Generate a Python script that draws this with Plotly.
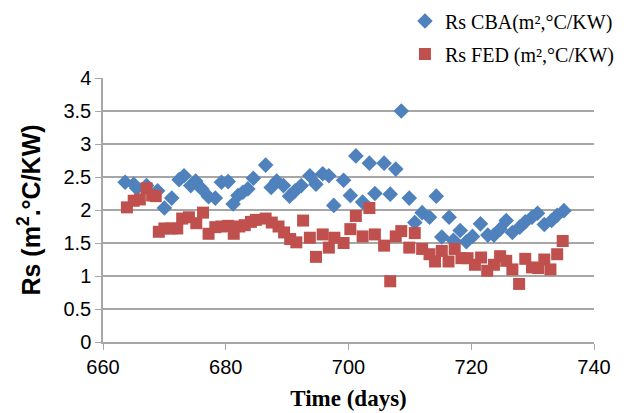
import plotly.graph_objects as go

# Rs CBA (blue diamonds)
cba_days = [663.6, 665.0, 665.5, 667.1, 668.9, 670.0, 671.2, 672.4, 673.2, 674.3,
            675.1, 676.1, 677.2, 678.3, 679.3, 680.4, 681.2, 682.0, 682.8, 683.6,
            684.5, 686.5, 687.4, 688.3, 689.4, 690.4, 691.3, 692.3, 693.7, 694.7,
            695.8, 696.8, 697.6, 699.2, 700.3, 701.2, 702.3, 703.4, 704.3, 705.8,
            706.8, 707.7, 708.6, 709.9, 710.8, 712.0, 713.2, 714.3, 715.2, 716.4,
            717.1, 718.2, 719.2, 720.2, 721.5, 722.7, 723.7, 724.7, 725.7, 726.7,
            727.9, 728.8, 729.9, 730.8, 731.9, 733.1, 734.0, 735.1]
cba_rs = [2.42, 2.39, 2.33, 2.37, 2.29, 2.03, 2.18, 2.46, 2.52, 2.37,
          2.44, 2.32, 2.20, 2.18, 2.42, 2.43, 2.09, 2.22, 2.27, 2.32,
          2.48, 2.68, 2.34, 2.44, 2.37, 2.21, 2.29, 2.37, 2.52, 2.39,
          2.55, 2.52, 2.07, 2.45, 2.22, 2.82, 2.12, 2.71, 2.25, 2.71,
          2.24, 2.62, 3.50, 2.18, 1.81, 1.96, 1.89, 2.21, 1.59, 1.89,
          1.54, 1.69, 1.52, 1.60, 1.79, 1.62, 1.62, 1.71, 1.84, 1.66,
          1.74, 1.82, 1.89, 1.95, 1.78, 1.84, 1.92, 1.99]

# Rs FED (red squares)
fed_days = [663.9, 665.0, 666.0, 667.1, 668.0, 668.6, 669.1, 670.0, 671.1, 672.1,
            672.9, 674.0, 675.2, 676.3, 677.2, 678.3, 679.3, 680.4, 681.3, 682.2,
            683.1, 684.1, 684.9, 686.5, 687.5, 688.6, 689.5, 690.5, 691.5, 692.6,
            693.7, 694.7, 695.8, 696.8, 697.7, 699.2, 700.3, 701.2, 702.3, 703.4,
            704.3, 705.8, 706.8, 707.7, 708.6, 709.9, 710.8, 712.0, 713.2, 714.1,
            715.2, 716.3, 717.3, 718.4, 719.4, 720.6, 721.6, 722.6, 723.7, 724.7,
            725.7, 726.7, 727.8, 728.8, 729.9, 730.9, 731.9, 732.9, 734.0, 734.9]
fed_rs = [2.04, 2.14, 2.16, 2.33, 2.22, 2.21, 1.67, 1.72, 1.72, 1.72,
          1.87, 1.89, 1.80, 1.96, 1.64, 1.74, 1.75, 1.76, 1.64, 1.75,
          1.77, 1.82, 1.85, 1.87, 1.81, 1.75, 1.66, 1.56, 1.51, 1.84,
          1.58, 1.29, 1.63, 1.43, 1.58, 1.50, 1.71, 1.91, 1.60, 2.03,
          1.63, 1.46, 0.92, 1.60, 1.68, 1.43, 1.65, 1.41, 1.33, 1.22,
          1.38, 1.22, 1.41, 1.27, 1.27, 1.17, 1.28, 1.08, 1.17, 1.30,
          1.23, 1.10, 0.88, 1.26, 1.13, 1.12, 1.25, 1.10, 1.33, 1.53]

blue = '#4F81BD'
red = '#C0504D'
grey = '#A6A6A6'

fig = go.Figure()
fig.add_trace(go.Scatter(x=cba_days, y=cba_rs, mode='markers', name='Rs CBA(m²,°C/KW)',
                         legendgroup='a',
                         marker=dict(symbol='diamond', size=12, color=blue)))
fig.add_trace(go.Scatter(x=fed_days, y=fed_rs, mode='markers', name='Rs FED (m²,°C/KW)',
                         legendgroup='b',
                         marker=dict(symbol='square', size=12, color=red)))

fig.update_layout(
    width=630, height=413,
    margin=dict(l=95, r=44, t=70, b=79, autoexpand=False),
    paper_bgcolor='white', plot_bgcolor='white',
    font=dict(family='Liberation Sans, Arial', size=20, color='black'),
    legend=dict(x=0.615, y=1.29, xanchor='left', yanchor='top',
                traceorder='grouped', tracegroupgap=4,
                font=dict(family='Liberation Serif, Times New Roman', size=20),
                bgcolor='rgba(0,0,0,0)'),
)
fig.update_xaxes(range=[660, 740], dtick=20, tick0=660,
                 showline=True, linecolor=grey, linewidth=1.5,
                 ticks='outside', tickcolor=grey, ticklen=6,
                 showgrid=False, zeroline=False,
                 title=dict(text='<b>Time (days)</b>', standoff=13,
                            font=dict(family='Liberation Serif, Times New Roman', size=23)))
fig.update_yaxes(range=[0, 4], dtick=0.5, tick0=0,
                 showline=True, linecolor=grey, linewidth=1.5,
                 ticks='outside', tickcolor=grey, ticklen=6,
                 showgrid=True, gridcolor=grey, gridwidth=1.5, zeroline=False,
                 title=dict(text='<b>Rs (m<sup>2</sup>.°C/KW)</b>', standoff=16,
                            font=dict(family='Liberation Sans, Arial', size=25)))

fig.write_html("out.html")
